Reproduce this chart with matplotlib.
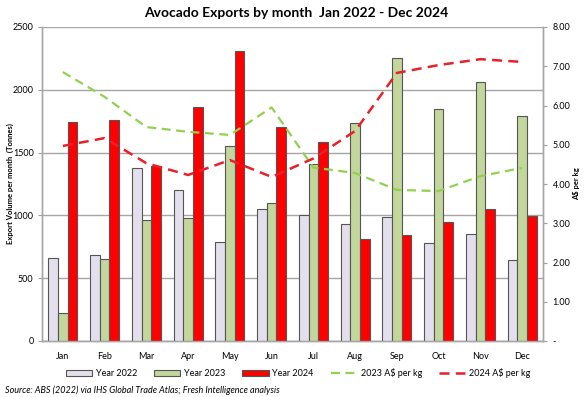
import matplotlib
matplotlib.use("Agg")
import matplotlib.pyplot as plt
import numpy as np

months = ["Jan", "Feb", "Mar", "Apr", "May", "Jun", "Jul", "Aug", "Sep", "Oct", "Nov", "Dec"]
vol_2022 = [660, 685, 1378, 1202, 790, 1051, 1003, 931, 988, 780, 852, 645]
vol_2023 = [223, 653, 963, 979, 1553, 1099, 1409, 1736, 2253, 1847, 2062, 1791]
vol_2024 = [1744, 1760, 1393, 1863, 2309, 1704, 1584, 812, 844, 947, 1051, 995]
price_2023 = [6.85, 6.22, 5.45, 5.33, 5.25, 5.95, 4.42, 4.28, 3.85, 3.82, 4.20, 4.41]
price_2024 = [4.97, 5.17, 4.53, 4.23, 4.61, 4.18, 4.65, 5.35, 6.83, 7.03, 7.18, 7.11]

left_ticks = [0, 500, 1000, 1500, 2000, 2500]
right_ticks = [0, 1, 2, 3, 4, 5, 6, 7, 8]
right_labels = ["-", "1.00", "2.00", "3.00", "4.00", "5.00", "6.00", "7.00", "8.00"]

plt.rcParams['font.family'] = ['Lato', 'DejaVu Sans']

fig = plt.figure(figsize=(5.85, 3.97), dpi=100)
ax = fig.add_axes([42/585, 1-341/397, 501/585, 314/397])
ax2 = ax.twinx()

x = np.arange(len(months))
w = 0.23
ec = "#555555"
b1 = ax.bar(x - w, vol_2022, w, color="#E4DFEC", edgecolor=ec, linewidth=0.8, label="Year 2022", zorder=3)
b2 = ax.bar(x, vol_2023, w, color="#C3D69B", edgecolor=ec, linewidth=0.8, label="Year 2023", zorder=3)
b3 = ax.bar(x + w, vol_2024, w, color="#FF0000", edgecolor=ec, linewidth=0.8, label="Year 2024", zorder=3)

l1, = ax2.plot(x, price_2023, color="#92D050", linestyle=(0, (4, 2.5)), linewidth=1.6, label="2023 A$ per kg")
l2, = ax2.plot(x, price_2024, color="#E8202A", linestyle=(0, (4, 2.5)), linewidth=1.8, label="2024 A$ per kg")

ax.set_xlim(-0.5, 11.5)
ax.set_ylim(0, 2500)
ax2.set_ylim(0, 8)
ax.set_yticks(left_ticks)
ax.set_yticklabels([str(t) for t in left_ticks], fontsize=6.5)
ax2.set_yticks(right_ticks)
ax2.set_yticklabels(right_labels, fontsize=6.5)
ax.set_xticks(x)
ax.set_xticklabels(months, fontsize=6.5)
ax.tick_params(axis='x', length=0, pad=8)
ax.tick_params(axis='y', length=3, color="#A0A0A0", pad=3)
ax2.tick_params(axis='y', length=3, color="#A0A0A0", pad=4)

ax.yaxis.grid(True, color="#A6A6A6", linewidth=1.0, zorder=0)
ax.set_axisbelow(True)
for a in (ax, ax2):
    a.spines['top'].set_visible(False)
    for s in ('left', 'right', 'bottom'):
        a.spines[s].set_color("#A6A6A6")
        a.spines[s].set_linewidth(1.0)

fig.text(10/585, 1-184/397, "Export Volume per month  (Tonnes)", fontsize=5.5, fontweight='bold',
         rotation=90, ha='center', va='center')
fig.text(577/585, 1-184/397, "A$ per kg", fontsize=5.5, fontweight='bold',
         rotation=90, ha='center', va='center')

fig.text(296/585, 1-13/397, "Avocado Exports by month  Jan 2022 - Dec 2024", fontsize=10, fontweight='bold',
         ha='center', va='center')

handles = [b1, b2, b3, l1, l2]
labels = [h.get_label() for h in handles]
fig.legend(handles, labels, loc='center', bbox_to_anchor=(298/585, 1-373/397), ncol=5,
           frameon=False, fontsize=6.5, handlelength=2.9, handleheight=0.6, columnspacing=1.9,
           handletextpad=0.4)

fig.text(0.008, 1-390/397, "Source: ABS (2022) via IHS Global Trade Atlas; Fresh Intelligence analysis",
         fontsize=6.5, style='italic', ha='left', va='center')

fig.savefig("out.png", dpi=100)
